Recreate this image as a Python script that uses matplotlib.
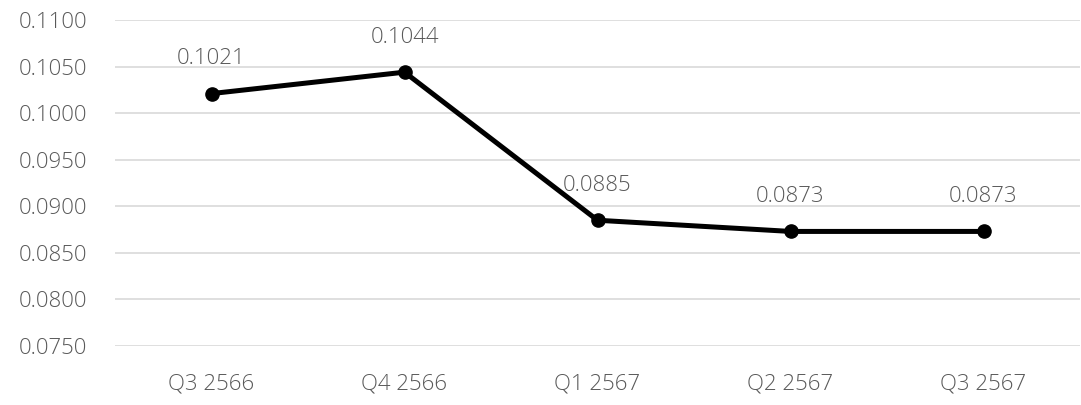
import matplotlib.pyplot as plt

quarters = ["Q3 2566", "Q4 2566", "Q1 2567", "Q2 2567", "Q3 2567"]
values = [0.1021, 0.1044, 0.0885, 0.0873, 0.0873]
y_ticks = [0.0750, 0.0800, 0.0850, 0.0900, 0.0950, 0.1000, 0.1050, 0.1100]

plt.rcParams['font.family'] = ['Open Sans', 'DejaVu Sans']
text_color = '#595959'

fig = plt.figure(figsize=(10.81, 4.05), dpi=100)
ax = fig.add_axes([115 / 1081, 1 - 346 / 405, 965 / 1081, 326 / 405])

x = list(range(len(quarters)))
ax.plot(x, values, color='black', linewidth=3.6, marker='o', markersize=9.5, zorder=3)

for xi, v in zip(x, values):
    ax.annotate(f"{v:.4f}", (xi, v), xytext=(0, 25), textcoords='offset points',
                ha='center', va='center', fontsize=16, color=text_color, fontweight='light')

ax.set_xlim(-0.5, len(quarters) - 0.5)
ax.set_ylim(0.0750, 0.1100)
ax.set_yticks(y_ticks)
ax.set_yticklabels([f"{t:.4f}" for t in y_ticks])
ax.set_xticks(x)
ax.set_xticklabels(quarters)
ax.grid(axis='y', color='#d9d9d9', linewidth=1.2)
ax.set_axisbelow(True)
for s in ax.spines.values():
    s.set_visible(False)
ax.tick_params(length=0, labelsize=16, colors=text_color)
ax.tick_params(axis='y', pad=20)
ax.tick_params(axis='x', pad=20)
for lab in ax.get_xticklabels() + ax.get_yticklabels():
    lab.set_fontweight('light')

fig.savefig('out.png', dpi=100)
